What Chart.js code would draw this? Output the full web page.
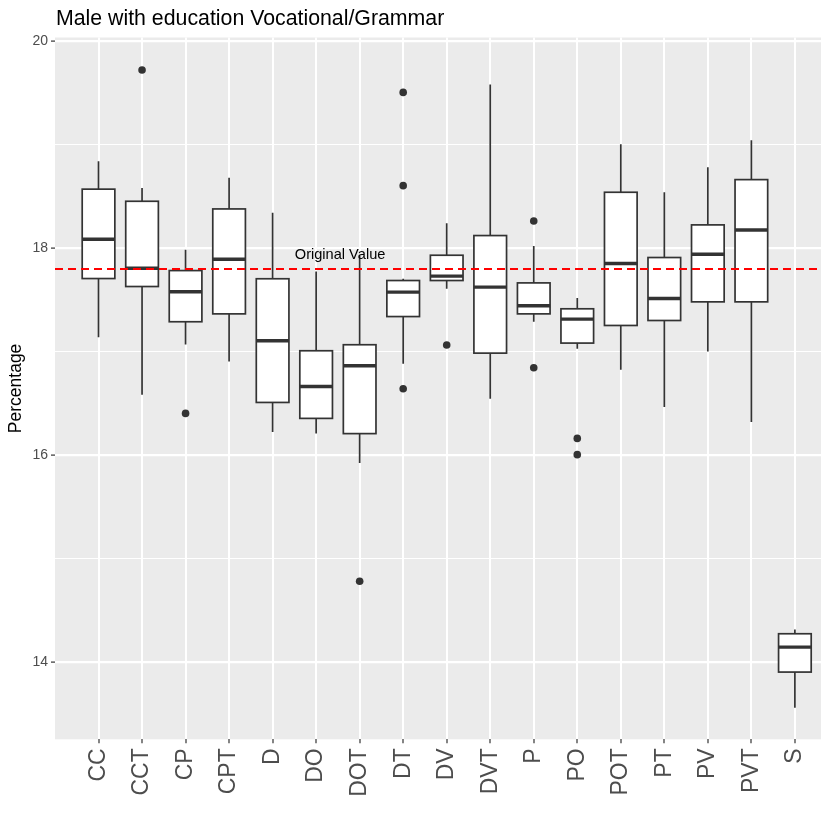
<!DOCTYPE html>
<html>
<head>
<meta charset="utf-8">
<script src="https://cdn.jsdelivr.net/npm/chart.js@4.4.1/dist/chart.umd.min.js"></script>
<style>
  body { margin: 0; background: #fff; }
  #chart { display: block; }
</style>
</head>
<body>
<canvas id="chart" width="830" height="830"></canvas>
<script>
// --- data ---
const categories = ["CC", "CCT", "CP", "CPT", "D", "DO", "DOT", "DT", "DV", "DVT",
                    "P", "PO", "POT", "PT", "PV", "PVT", "S"];
const whiskerLow  = [17.14, 16.585, 17.07, 16.907, 16.226, 16.21, 15.927, 16.884, 17.608, 16.547,
                     17.29, 17.029, 16.826, 16.467, 17.003, 16.322, 13.564];
const q1          = [17.707, 17.63, 17.29, 17.366, 16.511, 16.357, 16.21, 17.34, 17.688, 16.987,
                     17.366, 17.084, 17.254, 17.302, 17.482, 17.482, 13.908];
const median      = [18.087, 17.807, 17.58, 17.894, 17.106, 16.665, 16.865, 17.576, 17.73, 17.624,
                     17.444, 17.315, 17.852, 17.514, 17.942, 18.176, 14.149];
const q3          = [18.57, 18.453, 17.784, 18.379, 17.705, 17.01, 17.068, 17.688, 17.932, 18.122,
                     17.665, 17.415, 18.54, 17.91, 18.225, 18.662, 14.278];
const whiskerHigh = [18.84, 18.58, 17.984, 18.681, 18.343, 17.775, 17.93, 17.704, 18.241, 19.581,
                     18.022, 17.518, 19.003, 18.54, 18.781, 19.041, 14.32];
const outlierCat   = ["CCT", "CP", "DOT", "DT", "DT", "DT", "DV", "P", "P", "PO", "PO"];
const outlierValue = [19.72, 16.405, 14.785, 19.504, 18.604, 16.643, 17.065, 18.263, 16.846, 16.164, 16.007];
const originalValue = 17.8;
const annotationText = "Original Value";
const annotationX = 5.55;
const annotationY = 17.93;
const yTickValues = [14, 15, 16, 17, 18, 19, 20];

// --- layout constants ---
const X_MIN = -1, X_MAX = 16.6;
const Y_MIN = 13.259, Y_MAX = 20.034;
const BOX_HALF = 0.375;
const INK = "#333333";
const FONT = "'Liberation Sans', Arial, sans-serif";

Chart.defaults.font.family = FONT;

// grey panel behind the grid
const panelBg = {
  id: "panelBg",
  beforeDraw(chart) {
    const a = chart.chartArea, ctx = chart.ctx;
    ctx.save();
    ctx.fillStyle = "#EBEBEB";
    ctx.fillRect(a.left, a.top, a.right - a.left, a.bottom - a.top);
    ctx.restore();
  },
};

// boxes, whiskers and medians, positioned through the chart scales
const boxes = {
  id: "boxes",
  beforeDatasetsDraw(chart) {
    const xs = chart.scales.x, ys = chart.scales.y, ctx = chart.ctx;
    ctx.save();
    ctx.strokeStyle = INK;
    categories.forEach((c, i) => {
      const xc = xs.getPixelForValue(i);
      const xl = xs.getPixelForValue(i - BOX_HALF);
      const xr = xs.getPixelForValue(i + BOX_HALF);
      const yLo = ys.getPixelForValue(whiskerLow[i]);
      const yQ1 = ys.getPixelForValue(q1[i]);
      const yMed = ys.getPixelForValue(median[i]);
      const yQ3 = ys.getPixelForValue(q3[i]);
      const yHi = ys.getPixelForValue(whiskerHigh[i]);

      ctx.lineWidth = 1.7;
      ctx.beginPath();
      ctx.moveTo(xc, yHi); ctx.lineTo(xc, yQ3);
      ctx.moveTo(xc, yQ1); ctx.lineTo(xc, yLo);
      ctx.stroke();

      ctx.fillStyle = "#ffffff";
      ctx.fillRect(xl, yQ3, xr - xl, yQ1 - yQ3);
      ctx.strokeRect(xl, yQ3, xr - xl, yQ1 - yQ3);

      ctx.lineWidth = 3.4;
      ctx.beginPath();
      ctx.moveTo(xl, yMed); ctx.lineTo(xr, yMed);
      ctx.stroke();
    });
    ctx.restore();
  },
};

// title and the text annotation
const texts = {
  id: "texts",
  afterDraw(chart) {
    const xs = chart.scales.x, ys = chart.scales.y, ctx = chart.ctx;
    ctx.save();
    ctx.fillStyle = "#000";
    ctx.font = "21.3px " + FONT;
    ctx.textAlign = "left";
    ctx.textBaseline = "alphabetic";
    ctx.fillText("Male with education Vocational/Grammar", 56, 25);

    ctx.font = "14.6px " + FONT;
    ctx.textAlign = "center";
    ctx.textBaseline = "middle";
    ctx.fillText(annotationText, xs.getPixelForValue(annotationX), ys.getPixelForValue(annotationY));
    ctx.restore();
  },
};

const isEven = (ctx) => ctx.tick && ctx.tick.value % 2 === 0;

new Chart(document.getElementById("chart"), {
  type: "scatter",
  data: {
    datasets: [
      {
        label: "outliers",
        data: outlierCat.map((c, i) => ({ x: categories.indexOf(c), y: outlierValue[i] })),
        pointRadius: 3.8,
        pointHoverRadius: 3.8,
        pointBackgroundColor: INK,
        pointBorderWidth: 0,
        showLine: false,
      },
      {
        label: "original",
        data: [{ x: X_MIN, y: originalValue }, { x: X_MAX, y: originalValue }],
        showLine: true,
        borderColor: "#FF0000",
        borderWidth: 2,
        borderDash: [8, 5],
        pointRadius: 0,
        fill: false,
      },
    ],
  },
  options: {
    responsive: false,
    animation: false,
    devicePixelRatio: 1,
    layout: { padding: { top: 37.5, right: 9, left: 0, bottom: 0 } },
    plugins: {
      legend: { display: false },
      tooltip: { enabled: false },
      title: { display: false },
    },
    scales: {
      x: {
        type: "linear",
        min: X_MIN,
        max: X_MAX,
        afterBuildTicks: (scale) => {
          scale.ticks = categories.map((c, i) => ({ value: i }));
        },
        afterFit: (scale) => { scale.height = 830 - 739.3; },
        ticks: {
          callback: (v) => categories[v],
          autoSkip: false,
          maxRotation: 90,
          minRotation: 90,
          padding: 5,
          color: "#4d4d4d",
          font: { size: 23 },
        },
        grid: {
          color: "#ffffff",
          lineWidth: 2,
          tickColor: INK,
          tickLength: 4,
          tickWidth: 1.2,
        },
        border: { display: false },
      },
      y: {
        type: "linear",
        min: Y_MIN,
        max: Y_MAX,
        afterBuildTicks: (scale) => {
          scale.ticks = yTickValues.map((v) => ({ value: v }));
        },
        afterFit: (scale) => { scale.width = 55; },
        ticks: {
          callback: (v) => (v % 2 === 0 ? String(v) : ""),
          padding: 3,
          color: "#4d4d4d",
          font: { size: 14 },
        },
        grid: {
          color: "#ffffff",
          lineWidth: (ctx) => (isEven(ctx) ? 2.2 : 1.1),
          tickColor: (ctx) => (isEven(ctx) ? INK : "rgba(0,0,0,0)"),
          tickLength: 4,
          tickWidth: 1.2,
        },
        border: { display: false },
        title: {
          display: true,
          text: "Percentage",
          color: "#000",
          font: { size: 17.5 },
          padding: { top: 6, bottom: 0 },
        },
      },
    },
  },
  plugins: [panelBg, boxes, texts],
});
</script>
</body>
</html>
